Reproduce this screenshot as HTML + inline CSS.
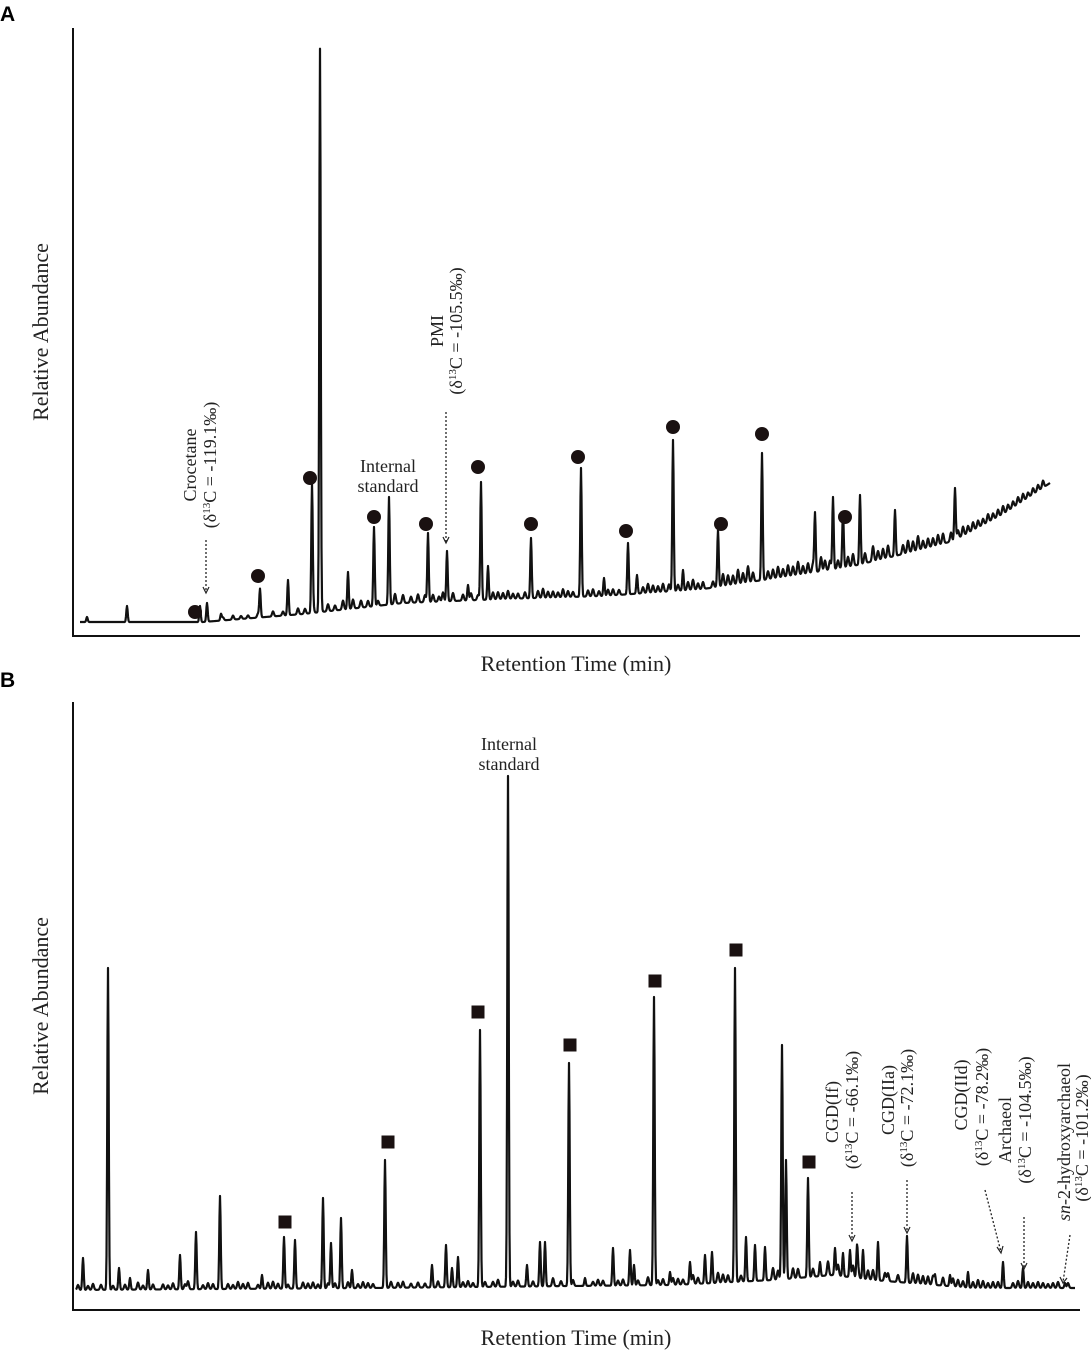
<!DOCTYPE html>
<html><head><meta charset="utf-8"><style>
html,body{margin:0;padding:0;background:#fff;}
svg{display:block;}
.lab{font-family:"Liberation Serif",serif;font-size:18px;fill:#222;}
.ttl{font-family:"Liberation Serif",serif;font-size:22px;fill:#222;}
.pl{font-family:"Liberation Sans",sans-serif;font-size:21px;font-weight:bold;fill:#000;}
</style></head><body>
<svg id="chart" width="1091" height="1352" viewBox="0 0 1091 1352">
<text class="pl" x="0" y="21">A</text>
<text class="pl" x="0" y="687">B</text>
<g id="panelA"></g>
<g id="panelB"></g>
</svg>
<script>
// ---- Panel A data (retention index, top abundance) ----
const baselineA_t=[0,130,230,330,430,530,630,730,780,830,880,930,977];
const baselineA_v=[14,14,22,33,37,40,47,62,70,82,95,122,153];
const peaksA_t=[14,54,127,134,148,187,215,239,247,275,301,316,355,374,395,408,415,458,508,531,555,564,600,610,645,689,742,760,770,787,822,882];
const peaksA_top=[19,30,30,33,22,47,56,148,584,64,109,139,103,85,51,154,70,98,168,58,93,61,196,66,98,183,123,139,108,141,126,148];
const smallA_t=[150,160,168,175,185,200,210,225,232,240,248,255,262,270,280,288,295,305,322,330,338,345,352,360,366,370,380,390,398,405,420,425,430,435,440,445,452,465,470,475,480,485,490,495,500,515,520,526,535,540,546,570,575,580,585,590,596,605,615,620,625,630,640,645,650,655,660,665,670,675,680,695,700,705,710,715,720,725,730,735,740,748,752,757,765,770,775,780,792,800,805,810,815,830,835,840,845,850,855,860,865,870,878,885,890,895,900,905,910,915,920,925,930,935,940,945,950,955,960,965,970,975];
const smallA_h=[3,4,3,3,4,5,4,6,5,8,6,7,5,9,9,7,6,5,10,8,6,8,7,7,5,9,8,6,7,5,7,7,6,8,5,5,6,7,9,6,6,5,8,6,5,6,7,5,6,6,5,6,9,7,6,8,7,6,8,10,6,7,6,8,12,10,9,14,10,16,9,8,9,11,8,11,9,13,8,10,9,14,10,9,8,16,10,12,10,15,9,10,12,9,12,10,14,8,9,8,10,10,9,8,9,7,8,7,6,8,6,7,8,6,6,7,7,5,6,6,7];
const markersA=[[122,24],[185,60],[237,158],[301,119],[353,112],[405,169],[458,112],[505,179],[553,105],[600,209],[648,112],[689,202],[772,119]];
// ---- Panel B data ----
const baselineB_t=[0,300,600,700,760,800,900,1002];
const baselineB_v=[20,22,25,30,35,30,22,22];
const peaksB_t=[10,35,46,57,75,107,123,147,189,211,222,250,258,268,279,312,359,373,379,385,407,435,454,467,472,496,512,540,557,561,581,597,617,632,639,662,673,682,692,709,713,735,747,762,770,777,784,790,805,834,862,877,895,930,950,992];
const peaksB_top=[52,342,42,32,40,55,78,114,35,73,70,112,67,92,40,150,45,65,42,53,280,534,45,68,68,247,32,62,60,45,313,38,48,55,58,342,73,65,63,265,150,132,48,62,57,60,60,60,68,74,35,35,38,48,42,27];
const smallB_t=[5,15,20,28,40,52,65,70,80,90,95,100,112,115,130,135,140,155,160,165,170,175,185,195,200,205,215,230,235,240,245,255,262,275,285,290,295,300,318,325,330,338,345,352,365,390,395,400,412,420,425,440,445,460,480,488,500,520,525,530,545,550,565,575,585,590,600,605,610,620,625,645,650,655,668,700,705,720,725,740,755,765,780,785,795,800,812,815,825,840,845,850,855,860,870,880,885,890,900,905,910,915,920,925,940,945,955,960,965,970,975,980,985,995];
const smallB_h=[5,4,6,5,4,5,7,4,5,5,4,6,5,8,4,6,5,5,4,7,5,6,4,6,7,5,4,6,5,6,4,5,5,6,4,6,5,4,6,5,6,4,5,4,6,5,6,4,5,5,7,5,6,5,8,5,6,4,6,5,5,6,5,8,5,6,7,6,5,9,6,10,8,7,6,12,9,10,9,8,14,11,12,10,9,10,8,8,7,10,9,8,8,9,8,8,7,6,6,8,7,5,6,6,5,7,6,5,6,5,4,5,6,5];
const markersB=[[212,88],[315,168],[405,298],[497,265],[582,329],[663,360],[736,148]];

const NS="http://www.w3.org/2000/svg";
function mk(tag,attrs,parent){const e=document.createElementNS(NS,tag);for(const k in attrs)e.setAttribute(k,attrs[k]);parent.appendChild(e);return e;}
function interp(ts,vs,t){if(t<=ts[0])return vs[0];for(let i=1;i<ts.length;i++){if(t<=ts[i]){const f=(t-ts[i-1])/(ts[i]-ts[i-1]);return vs[i-1]+f*(vs[i]-vs[i-1]);}}return vs[vs.length-1];}

function panel(g,cfg){
  const x=t=>cfg.x0+t*(cfg.x1-cfg.x0)/1007;
  const y=v=>cfg.yAxis-v;
  const ax=mk('path',{d:`M${cfg.x0},${cfg.yTop} V${cfg.yAxis} H${cfg.x1}`,fill:'none',stroke:'#111','stroke-width':2},g);
  
  
  const base=t=>interp(cfg.bt,cfg.bv,t);
  let d='';
  for(let t=cfg.tStart;t<=cfg.tEnd;t+=0.5){
    let v=base(t);
    cfg.pt.forEach((pt,i)=>{const h=(cfg.ptop[i]||0)-base(pt);const dt=(t-pt)/1.0;v+=h*Math.exp(-dt*dt);});
    cfg.st.forEach((st,i)=>{const dt=(t-st)/1.3;v+=(cfg.sh[i]||0)*Math.exp(-dt*dt);});
    d+=(d?'L':'M')+x(t).toFixed(2)+','+y(v).toFixed(2);
  }
  const tr=mk('path',{d:d,fill:'none',stroke:'#111','stroke-width':2.2,'stroke-linejoin':'round'},g);
  
  
  cfg.markers.forEach(m=>{
    let e;
    if(cfg.mtype==='c'){e=mk('circle',{cx:x(m[0]),cy:y(m[1]),r:7,fill:'#1a1111'},g);}
    else{e=mk('rect',{x:x(m[0])-6.5,y:y(m[1])-6.5,width:13,height:13,fill:'#1a1111'},g);}
    
    
  });
  const yt=mk('text',{class:'ttl',transform:`translate(48,${(cfg.yTop+cfg.yAxis)/2}) rotate(-90)`,'text-anchor':'middle'},g);
  yt.textContent='Relative Abundance';
  
  
  const xt=mk('text',{class:'ttl',x:576,y:cfg.yAxis+35,'text-anchor':'middle'},g);
  xt.textContent='Retention Time (min)';
  
  
}
panel(document.getElementById('panelA'),{x0:73,x1:1080,yTop:28,yAxis:636,bt:baselineA_t,bv:baselineA_v,pt:peaksA_t,ptop:peaksA_top,st:smallA_t,sh:smallA_h,tStart:7,tEnd:977,markers:markersA,mtype:'c'});
panel(document.getElementById('panelB'),{x0:73,x1:1080,yTop:702,yAxis:1310,bt:baselineB_t,bv:baselineB_v,pt:peaksB_t,ptop:peaksB_top,st:smallB_t,sh:smallB_h,tStart:3,tEnd:1002,markers:markersB,mtype:'s'});
</script>
<svg width="1091" height="1352" style="position:absolute;left:0;top:0">
<g class="lab">
<text x="388" y="472" text-anchor="middle">Internal</text>
<text x="388" y="492" text-anchor="middle">standard</text>
<text transform="translate(196,465) rotate(-90)" text-anchor="middle">Crocetane</text>
<text transform="translate(216,465) rotate(-90)" text-anchor="middle">(δ<tspan font-size="11" dy="-6">13</tspan><tspan dy="6">C = -119.1‰)</tspan></text>
<text transform="translate(443,331) rotate(-90)" text-anchor="middle">PMI</text>
<text transform="translate(462,331) rotate(-90)" text-anchor="middle">(δ<tspan font-size="11" dy="-6">13</tspan><tspan dy="6">C = -105.5‰)</tspan></text>
<text x="509" y="750" text-anchor="middle">Internal</text>
<text x="509" y="770" text-anchor="middle">standard</text>
<text transform="translate(838,1112) rotate(-90)" text-anchor="middle">CGD(If)</text>
<text transform="translate(858,1110) rotate(-90)" text-anchor="middle">(δ<tspan font-size="11" dy="-6">13</tspan><tspan dy="6">C = -66.1‰)</tspan></text>
<text transform="translate(894,1100) rotate(-90)" text-anchor="middle">CGD(IIa)</text>
<text transform="translate(913,1108) rotate(-90)" text-anchor="middle">(δ<tspan font-size="11" dy="-6">13</tspan><tspan dy="6">C = -72.1‰)</tspan></text>
<text transform="translate(967,1095) rotate(-90)" text-anchor="middle">CGD(IId)</text>
<text transform="translate(988,1107) rotate(-90)" text-anchor="middle">(δ<tspan font-size="11" dy="-6">13</tspan><tspan dy="6">C = -78.2‰)</tspan></text>
<text transform="translate(1011,1130) rotate(-90)" text-anchor="middle">Archaeol</text>
<text transform="translate(1031,1120) rotate(-90)" text-anchor="middle">(δ<tspan font-size="11" dy="-6">13</tspan><tspan dy="6">C = -104.5‰)</tspan></text>
<text transform="translate(1070,1142) rotate(-90)" text-anchor="middle"><tspan font-style="italic">sn</tspan>-2-hydroxyarchaeol</text>
<text transform="translate(1088,1138) rotate(-90)" text-anchor="middle">(δ<tspan font-size="11" dy="-6">13</tspan><tspan dy="6">C = -101.2‰)</tspan></text>
</g>
<g stroke="#222" stroke-width="1.3" stroke-dasharray="2,2" fill="none">
<path d="M206,540 L206,592"/>
<path d="M446,412 L446,542"/>
<path d="M852,1192 L852,1240"/>
<path d="M907,1180 L907,1232"/>
<path d="M985,1190 L1001,1252"/>
<path d="M1024,1217 L1024,1268"/>
<path d="M1070,1235 L1063,1282"/>
</g>
<g stroke="#222" stroke-width="1.2" fill="none">
<path d="M203,587 L206,593 L209,587"/>
<path d="M443,537 L446,543 L449,537"/>
<path d="M849,1235 L852,1241 L855,1235"/>
<path d="M904,1227 L907,1233 L910,1227"/>
<path d="M997,1247 L1001,1253 L1003,1246"/>
<path d="M1021,1263 L1024,1269 L1027,1263"/>
<path d="M1060,1277 L1063,1283 L1067,1278"/>
</g>
</svg>
</body></html>
